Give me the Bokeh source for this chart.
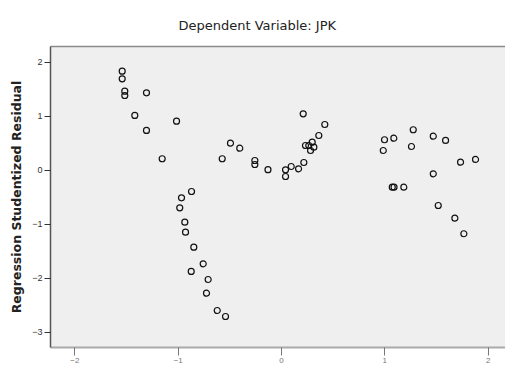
from bokeh.plotting import figure
from bokeh.models import Range1d, FixedTicker, LinearAxis, Title
from bokeh.embed import file_html
from bokeh.resources import INLINE

# Standardized predicted value (x) and studentized residual (y)
pred = [-1.542, -1.542, -1.517, -1.517, -1.307, -1.420, -1.307, -1.016, -1.155,
        -0.494, -0.404, -0.574, -0.258, -0.258, -0.131, 0.039, 0.039, 0.094,
        0.165, 0.216, 0.210, 0.419, 0.361, 0.297, 0.264, 0.313, 0.281, 0.232,
        -0.871, -0.968, -0.985, -0.936, -0.929, -0.849, -0.758, -0.874, -0.710,
        -0.726, -0.622, -0.542,
        0.997, 1.087, 0.985, 1.275, 1.258, 1.469, 1.588, 1.733, 1.878, 1.469,
        1.072, 1.089, 1.184, 1.517, 1.678, 1.765]
resid = [1.839, 1.698, 1.469, 1.389, 1.439, 1.019, 0.741, 0.913, 0.217,
         0.506, 0.413, 0.217, 0.185, 0.111, 0.015, 0.013, -0.111, 0.074,
         0.031, 0.148, 1.050, 0.852, 0.648, 0.524, 0.463, 0.431, 0.370, 0.463,
         -0.389, -0.506, -0.691, -0.957, -1.143, -1.420, -1.728, -1.870, -2.019,
         -2.272, -2.593, -2.704,
         0.569, 0.598, 0.370, 0.754, 0.444, 0.635, 0.556, 0.154, 0.204, -0.061,
         -0.309, -0.309, -0.309, -0.648, -0.883, -1.172]

x_ticks = [-2, -1, 0, 1, 2]
y_ticks = [-3, -2, -1, 0, 1, 2]

FONT = "DejaVu Sans"

p = figure(width=505, height=367, output_backend="svg", toolbar_location=None,
           x_range=Range1d(-2.236, 2.168), y_range=Range1d(-3.278, 2.296),
           min_border_left=50, min_border_right=0, min_border_top=46,
           min_border_bottom=20, x_axis_location=None, y_axis_location=None)
p.background_fill_color = "#efefef"
p.border_fill_color = "white"
p.outline_line_color = None
p.xgrid.visible = False
p.ygrid.visible = False

top = LinearAxis(ticker=FixedTicker(ticks=[]), axis_line_color="#8a8a8a",
                 axis_line_width=1.5, major_tick_line_color=None,
                 minor_tick_line_color=None, major_label_text_font_size="1px")
p.add_layout(top, "above")

title = Title(text="Dependent Variable: JPK", align="left", offset=128,
              standoff=28, text_font=FONT, text_font_size="13px",
              text_font_style="normal", text_color="#222222")
p.add_layout(title, "above")

yax = LinearAxis(ticker=FixedTicker(ticks=y_ticks), axis_label="Regression Studentized Residual",
                 axis_label_text_font=FONT, axis_label_text_font_size="12.5px",
                 axis_label_text_font_style="bold", axis_label_text_color="#222222",
                 axis_label_standoff=5,
                 major_label_text_font="Liberation Sans", major_label_text_font_size="9px",
                 major_label_text_color="#333333", major_label_standoff=2,
                 axis_line_color="#555555", axis_line_width=1.5,
                 major_tick_line_color="#333333", major_tick_in=0, major_tick_out=6,
                 minor_tick_line_color=None)
p.add_layout(yax, "left")

xax = LinearAxis(ticker=FixedTicker(ticks=x_ticks),
                 major_label_text_font="Liberation Sans", major_label_text_font_size="8px",
                 major_label_text_color="#777777", major_label_standoff=2,
                 axis_line_color="#aaaaaa", axis_line_width=2,
                 major_tick_line_color="#777777", major_tick_in=0, major_tick_out=8,
                 minor_tick_line_color=None)
p.add_layout(xax, "below")

p.scatter(pred, resid, marker="circle", size=6, fill_color=None,
          line_color="#111111", line_width=1.2)

open("out.html", "w").write(file_html(p, INLINE))
